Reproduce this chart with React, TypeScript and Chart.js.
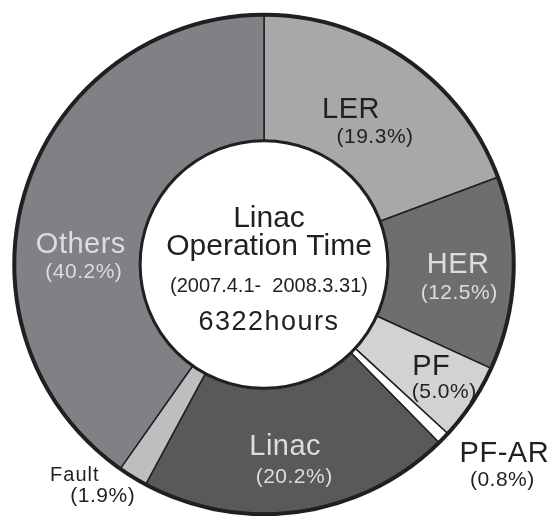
import React, { useEffect, useRef } from "react";
import { Chart, registerables } from "chart.js";

Chart.register(...registerables);

// ---- data ----
const categories = ["LER", "HER", "PF", "PF-AR", "Linac", "Fault", "Others"];
const shares = [19.3, 12.5, 5.0, 0.8, 20.2, 1.9, 40.2];
const centerTitle = ["Linac", "Operation Time"];
const centerPeriod = "(2007.4.1-  2008.3.31)";
const centerTotal = "6322hours";

// ---- styles ----
const sliceColors = ["#a7a8aa", "#6d6e70", "#d1d2d4", "#ffffff", "#58595b", "#bcbec0", "#808184"];
const INK = "#231f20";
const LIGHT = "#dcdddf";
const FONT = '"Liberation Sans", Arial, Helvetica, sans-serif';

// label layout: radius fraction of outer radius, angle nudge (deg), percent-line offset, name size, colour
const labelLayout = [
  { rf: 0.709, dAng: -5.4, pdx: 24, pdy: 27, size: 29, color: INK },
  { rf: 0.776, dAng: -2.0, pdx: 1, pdy: 28, size: 29, color: LIGHT },
  { rf: 0.784, dAng: -2.1, pdx: 13, pdy: 25, size: 29, color: INK },
  { rf: 1.223, dAng: -5.8, pdx: -2, pdy: 26, size: 29, color: INK },
  { rf: 0.735, dAng: 1.5, pdx: 9, pdy: 30, size: 29, color: LIGHT },
  { rf: 1.132, dAng: 10.2, pdx: 28, pdy: 21, size: 20, color: INK },
  { rf: 0.736, dAng: -11.5, pdx: 3, pdy: 27, size: 29, color: LIGHT },
];

const overlayPlugin = {
  id: "overlay",
  afterDatasetsDraw(chart: any) {
    const ctx: CanvasRenderingContext2D = chart.ctx;
    const meta = chart.getDatasetMeta(0);
    const arcs = meta.data as any[];
    if (!arcs.length) return;
    const cx = arcs[0].x;
    const cy = arcs[0].y;
    const outerR = arcs[0].outerRadius;
    const innerR = arcs[0].innerRadius;

    ctx.save();
    ctx.strokeStyle = INK;
    ctx.lineWidth = 4;
    ctx.beginPath();
    ctx.arc(cx, cy, outerR - 0.5, 0, Math.PI * 2);
    ctx.stroke();
    ctx.lineWidth = 3;
    ctx.beginPath();
    ctx.arc(cx, cy, innerR, 0, Math.PI * 2);
    ctx.stroke();

    ctx.textAlign = "center";
    ctx.textBaseline = "middle";

    arcs.forEach((arc, i) => {
      const L = labelLayout[i];
      const mid = (arc.startAngle + arc.endAngle) / 2 + (L.dAng * Math.PI) / 180;
      const r = L.rf * outerR;
      const x = cx + Math.cos(mid) * r;
      const y = cy + Math.sin(mid) * r;
      ctx.fillStyle = L.color;
      ctx.font = `${L.size}px ${FONT}`;
      (ctx as any).letterSpacing = L.size < 24 ? "1px" : "0.5px";
      ctx.fillText(categories[i], x, y);
      ctx.font = `21px ${FONT}`;
      (ctx as any).letterSpacing = "0.5px";
      ctx.fillText(`(${shares[i].toFixed(1)}%)`, x + L.pdx, y + L.pdy);
    });

    // centre text
    const tx = cx + 5;
    ctx.fillStyle = INK;
    (ctx as any).letterSpacing = "0px";
    ctx.font = `30px ${FONT}`;
    ctx.fillText(centerTitle[0], tx, cy - 46);
    ctx.fillText(centerTitle[1], tx, cy - 18);
    ctx.font = `20px ${FONT}`;
    ctx.fillText(centerPeriod, tx, cy + 22);
    ctx.font = `27px ${FONT}`;
    (ctx as any).letterSpacing = "1.5px";
    ctx.fillText(centerTotal, tx, cy + 58);
    ctx.restore();
  },
};

export default function App() {
  const ref = useRef<HTMLCanvasElement | null>(null);
  useEffect(() => {
    if (!ref.current) return;
    const chart = new Chart(ref.current, {
      type: "doughnut",
      data: {
        labels: categories,
        datasets: [
          {
            data: shares,
            backgroundColor: sliceColors,
            borderColor: INK,
            borderWidth: 1.5,
          },
        ],
      },
      options: {
        responsive: false,
        animation: false,
        cutout: "49.5%",
        layout: { padding: { left: 13, right: 35, top: 13, bottom: 0 } },
        plugins: {
          legend: { display: false },
          tooltip: { enabled: false },
        },
      },
      plugins: [overlayPlugin],
    });
    return () => chart.destroy();
  }, []);
  return (
    <div style={{ position: "absolute", left: 0, top: 0, width: 550, height: 516, background: "#fff" }}>
      <canvas ref={ref} width={550} height={516} />
    </div>
  );
}
